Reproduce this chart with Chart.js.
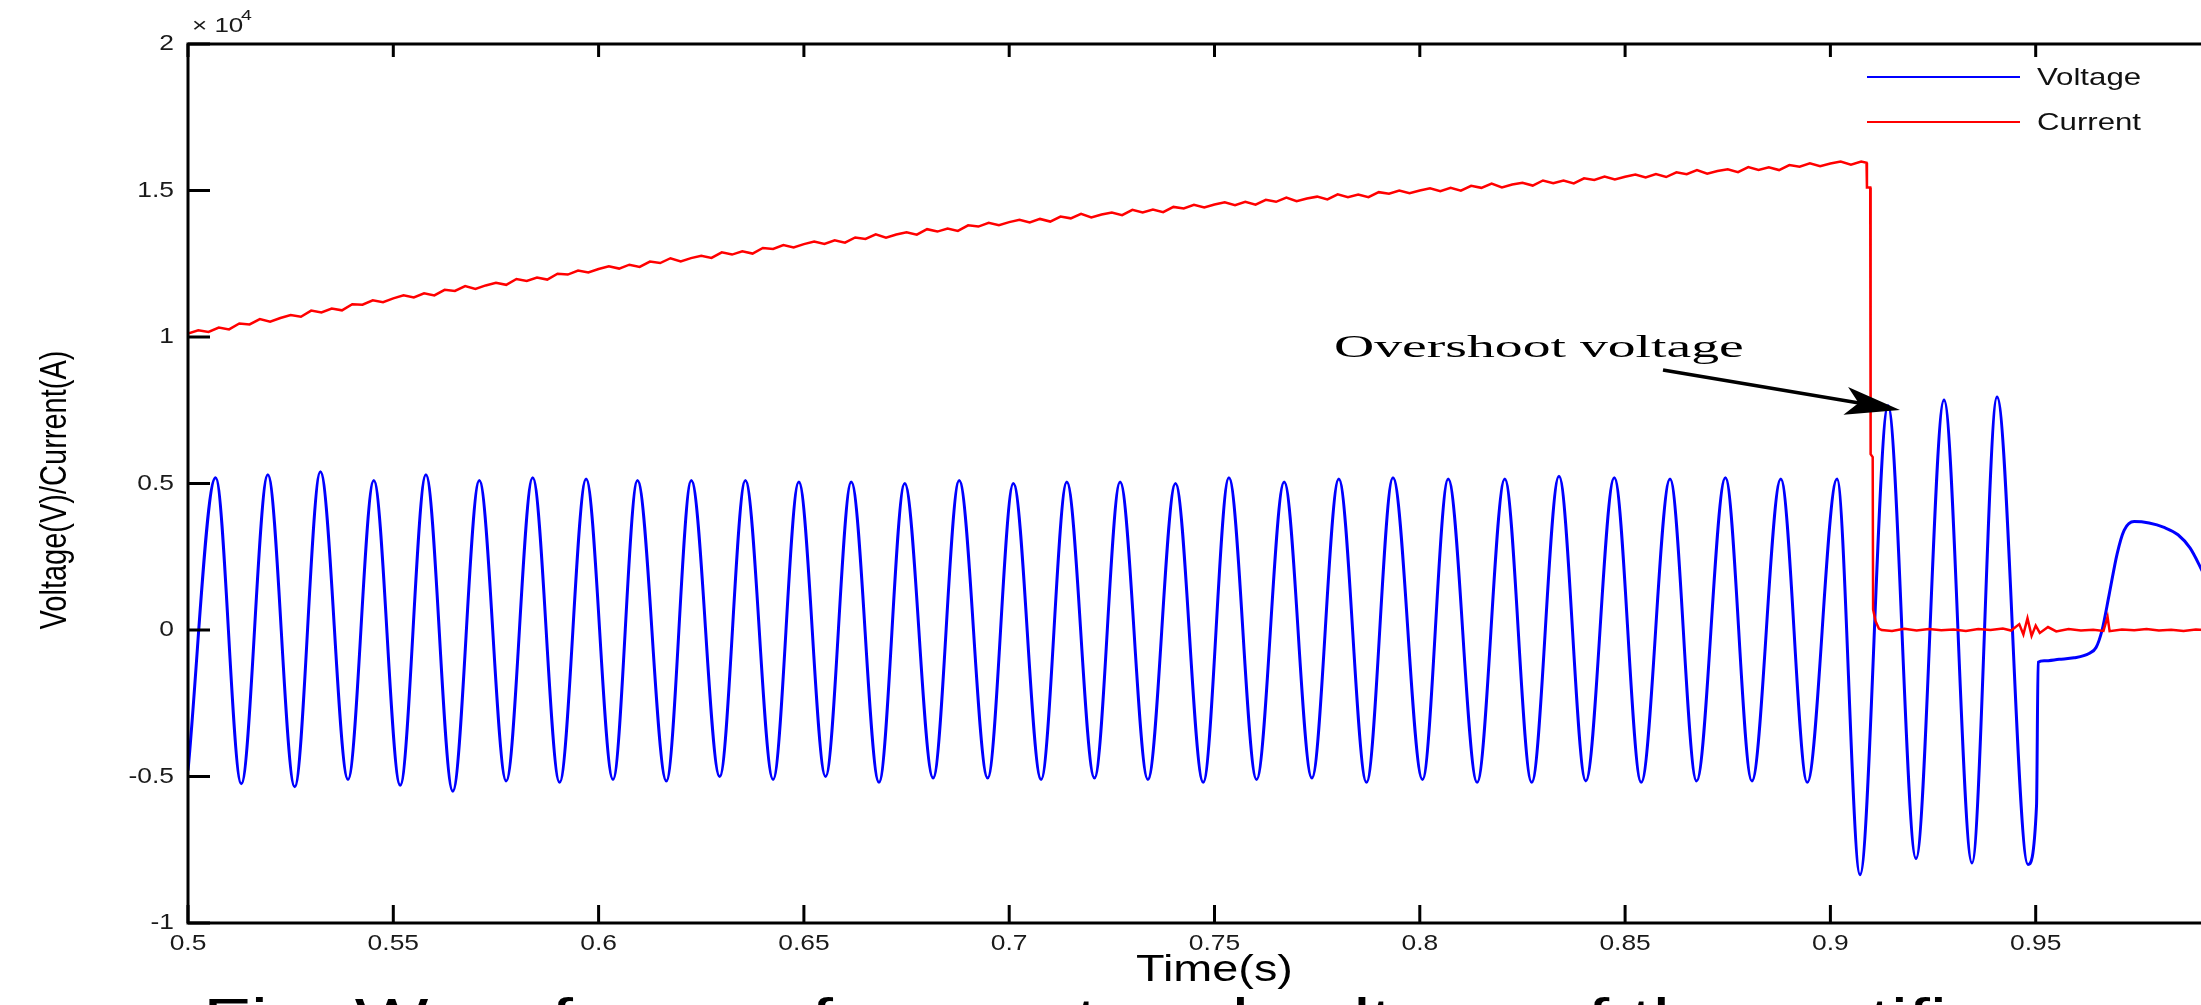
<!DOCTYPE html>
<html>
<head>
<meta charset="utf-8">
<script src="https://cdn.jsdelivr.net/npm/chart.js@4.4.1/dist/chart.umd.min.js"></script>
<style>
  html, body { margin:0; padding:0; background:#fff; overflow:hidden; width:2201px; height:1005px; }
  canvas { display:block; }
</style>
</head>
<body>
<canvas id="wave" width="2250" height="1005"></canvas>
<script>
// voltage: extrema (time in s, value in V)
const voltTime = [
  0.5000, 0.50672, 0.51298, 0.51944, 0.52599, 0.53225, 0.53897, 0.54525, 0.55168, 0.55794,
  0.56449, 0.57095, 0.57750, 0.58395, 0.59050, 0.59696, 0.60351, 0.60947, 0.61651, 0.62258,
  0.62949, 0.63575, 0.64250, 0.64876, 0.65528, 0.66154, 0.66829, 0.67455, 0.68147, 0.68782,
  0.69476, 0.70102, 0.70777, 0.71403, 0.72077, 0.72701, 0.73378, 0.74050, 0.74725, 0.75351,
  0.76025, 0.76697, 0.77372, 0.78027, 0.78702, 0.79347, 0.80066, 0.80692, 0.81396, 0.82070,
  0.82725, 0.83390, 0.84043, 0.84737, 0.85392, 0.86094, 0.86741, 0.87443, 0.88088, 0.88792,
  0.89437, 0.90161, 0.90721, 0.91403, 0.92085, 0.92767, 0.93449, 0.94058, 0.94812, 0.95020,
  0.95060, 0.95205, 0.95570, 0.95935, 0.96300, 0.96470, 0.96617, 0.96788, 0.96983, 0.97153,
  0.97397, 0.97762, 0.98127, 0.98466, 0.98758, 0.99026, 0.99300
];
const voltValue = [
  -4800, 5200, -5250, 5300, -5350, 5400, -5100, 5100, -5300, 5300,
  -5500, 5100, -5150, 5200, -5200, 5150, -5100, 5100, -5150, 5100,
  -5000, 5100, -5100, 5050, -5000, 5050, -5200, 5000, -5050, 5100,
  -5050, 5000, -5100, 5050, -5050, 5050, -5100, 5000, -5200, 5200,
  -5100, 5050, -5050, 5150, -5200, 5200, -5100, 5150, -5200, 5150,
  -5200, 5250, -5150, 5200, -5200, 5150, -5150, 5200, -5150, 5150,
  -5200, 5150, -8350, 7650, -7800, 7850, -7950, 7950, -8000, -6000,
  -1100, -1050, -1000, -950, -800, -600, 0, 1200, 2600, 3400,
  3700, 3650, 3500, 3250, 2800, 2100, 1300
];

// current (A), noisy ramp then the interruption
const currTime = [
  0.5000, 0.5025, 0.5050, 0.5075, 0.5100, 0.5125, 0.5150, 0.5175, 0.5200, 0.5225,
  0.5250, 0.5275, 0.5300, 0.5325, 0.5350, 0.5375, 0.5400, 0.5425, 0.5450, 0.5475,
  0.5500, 0.5525, 0.5550, 0.5575, 0.5600, 0.5625, 0.5650, 0.5675, 0.5700, 0.5725,
  0.5750, 0.5775, 0.5800, 0.5825, 0.5850, 0.5875, 0.5900, 0.5925, 0.5950, 0.5975,
  0.6000, 0.6025, 0.6050, 0.6075, 0.6100, 0.6125, 0.6150, 0.6175, 0.6200, 0.6225,
  0.6250, 0.6275, 0.6300, 0.6325, 0.6350, 0.6375, 0.6400, 0.6425, 0.6450, 0.6475,
  0.6500, 0.6525, 0.6550, 0.6575, 0.6600, 0.6625, 0.6650, 0.6675, 0.6700, 0.6725,
  0.6750, 0.6775, 0.6800, 0.6825, 0.6850, 0.6875, 0.6900, 0.6925, 0.6950, 0.6975,
  0.7000, 0.7025, 0.7050, 0.7075, 0.7100, 0.7125, 0.7150, 0.7175, 0.7200, 0.7225,
  0.7250, 0.7275, 0.7300, 0.7325, 0.7350, 0.7375, 0.7400, 0.7425, 0.7450, 0.7475,
  0.7500, 0.7525, 0.7550, 0.7575, 0.7600, 0.7625, 0.7650, 0.7675, 0.7700, 0.7725,
  0.7750, 0.7775, 0.7800, 0.7825, 0.7850, 0.7875, 0.7900, 0.7925, 0.7950, 0.7975,
  0.8000, 0.8025, 0.8050, 0.8075, 0.8100, 0.8125, 0.8150, 0.8175, 0.8200, 0.8225,
  0.8250, 0.8275, 0.8300, 0.8325, 0.8350, 0.8375, 0.8400, 0.8425, 0.8450, 0.8475,
  0.8500, 0.8525, 0.8550, 0.8575, 0.8600, 0.8625, 0.8650, 0.8675, 0.8700, 0.8725,
  0.8750, 0.8775, 0.8800, 0.8825, 0.8850, 0.8875, 0.8900, 0.8925, 0.8950, 0.8975,
  0.9000, 0.9025, 0.9050, 0.9075,
  0.9088, 0.9089, 0.9097, 0.9098, 0.9103, 0.9104, 0.9110, 0.9118, 0.9125,
  0.915, 0.918, 0.921, 0.924, 0.927, 0.930, 0.933, 0.936, 0.939, 0.942,
  0.944, 0.946, 0.947, 0.948, 0.949, 0.950, 0.951, 0.953, 0.955, 0.958,
  0.961, 0.964, 0.9665, 0.9675, 0.968, 0.971, 0.974, 0.977, 0.980, 0.983,
  0.986, 0.989, 0.992, 0.995, 1.000
];
const currValue = [
  10120, 10230, 10170, 10320, 10260, 10460, 10430, 10610, 10520, 10650,
  10750, 10690, 10900, 10840, 10970, 10910, 11120, 11100, 11250, 11190,
  11320, 11420, 11350, 11490, 11420, 11610, 11570, 11740, 11640, 11760,
  11850, 11780, 11980, 11910, 12030, 11960, 12160, 12130, 12270, 12200,
  12320, 12413, 12335, 12468, 12390, 12573, 12525, 12688, 12580, 12693,
  12775, 12698, 12890, 12813, 12925, 12848, 13040, 13003, 13135, 13058,
  13170, 13258, 13175, 13303, 13220, 13398, 13345, 13503, 13390, 13498,
  13575, 13493, 13680, 13598, 13705, 13623, 13810, 13768, 13895, 13813,
  13920, 14000, 13910, 14030, 13940, 14110, 14050, 14200, 14080, 14180,
  14250, 14160, 14340, 14250, 14350, 14260, 14440, 14390, 14510, 14420,
  14520, 14594, 14498, 14612, 14516, 14680, 14614, 14758, 14632, 14726,
  14790, 14694, 14868, 14772, 14866, 14770, 14944, 14888, 15002, 14906,
  15000, 15074, 14977, 15091, 14994, 15158, 15091, 15235, 15108, 15202,
  15265, 15169, 15342, 15246, 15339, 15243, 15416, 15360, 15473, 15377,
  15470, 15543, 15445, 15558, 15460, 15623, 15555, 15698, 15570, 15663,
  15725, 15628, 15800, 15703, 15795, 15698, 15870, 15813, 15925, 15828,
  15920, 15985, 15880, 15985,
  15950, 15100, 15100, 6000, 5900, 700, 300, 50, 0,
  -30, 40, -20, 30, -10, 20, -30, 30, 0, 50,
  -20, 200, -150, 400, -200, 150, -100, 100, -50, 30,
  -20, 10, -30, 450, -40, 20, -10, 30, -20, 10,
  -30, 20, -10, 0, 0
];

const xTicks = [0.5, 0.55, 0.6, 0.65, 0.7, 0.75, 0.8, 0.85, 0.9, 0.95, 1];
const yTicks = [-10000, -5000, 0, 5000, 10000, 15000, 20000];
const seriesNames = ['Voltage', 'Current'];
const seriesColors = ['#0000ff', '#ff0000'];

const SX = 1.3; // the figure is stretched sideways

function stretchText(ctx, s, x, y, font, align, sx, base) {
  ctx.save();
  ctx.font = font;
  ctx.textAlign = align;
  ctx.textBaseline = base || 'middle';
  ctx.translate(x, y);
  ctx.scale(sx, 1);
  ctx.fillText(s, 0, 0);
  ctx.restore();
}

const frame = {
  id: 'frame',
  afterDraw(chart) {
    const { ctx, chartArea: a, scales: { x, y } } = chart;
    ctx.save();
    ctx.strokeStyle = '#000';
    ctx.fillStyle = '#000';
    ctx.lineWidth = 3;
    ctx.strokeRect(a.left, a.top, a.right - a.left, a.bottom - a.top);

    // inward ticks
    ctx.beginPath();
    yTicks.forEach(v => {
      const py = y.getPixelForValue(v);
      ctx.moveTo(a.left, py); ctx.lineTo(a.left + 22, py);
      ctx.moveTo(a.right, py); ctx.lineTo(a.right - 22, py);
    });
    xTicks.forEach(v => {
      const px = x.getPixelForValue(v);
      ctx.moveTo(px, a.bottom); ctx.lineTo(px, a.bottom - 18);
      ctx.moveTo(px, a.top); ctx.lineTo(px, a.top + 13);
    });
    ctx.stroke();

    // tick labels
    ctx.fillStyle = '#1a1a1a';
    yTicks.forEach(v => {
      const py = y.getPixelForValue(v);
      stretchText(ctx, String(+(v / 1e4).toFixed(2)), a.left - 14, py, '22px "Liberation Sans", Arial', 'right', 1.2);
    });
    xTicks.forEach(v => {
      const px = x.getPixelForValue(v);
      stretchText(ctx, String(+v.toFixed(2)), px, a.bottom + 21, '22px "Liberation Sans", Arial', 'center', 1.2);
    });

    // exponent
    stretchText(ctx, '\u00d7 10', a.left + 4, a.top - 18, '20px "Liberation Sans", Arial', 'left', SX);
    stretchText(ctx, '4', a.left + 53, a.top - 28, '15px "Liberation Sans", Arial', 'left', SX);

    // axis titles
    ctx.fillStyle = '#000';
    stretchText(ctx, 'Time(s)', x.getPixelForValue(0.75), 971, '36px "Liberation Sans", Arial', 'center', SX);
    ctx.save();
    ctx.font = '29px "Liberation Sans", Arial';
    ctx.textAlign = 'center';
    ctx.textBaseline = 'middle';
    ctx.translate(56, 490);
    ctx.rotate(-Math.PI / 2);
    ctx.scale(1, SX);
    ctx.fillText('Voltage(V)/Current(A)', 0, 0);
    ctx.restore();

    // legend
    seriesNames.forEach((name, i) => {
      const ly = 77 + i * 45;
      ctx.strokeStyle = seriesColors[i];
      ctx.lineWidth = 2;
      ctx.beginPath(); ctx.moveTo(1867, ly); ctx.lineTo(2020, ly); ctx.stroke();
      ctx.fillStyle = '#111';
      stretchText(ctx, name, 2037, ly + 1, '24px "Liberation Sans", Arial', 'left', SX);
    });

    // annotation
    ctx.fillStyle = '#000';
    stretchText(ctx, 'Overshoot voltage', 1334, 349, '32px "Liberation Serif", "Times New Roman", serif', 'left', 1.74);
    const x0 = 1663, y0 = 370, x1 = 1900, y1 = 410;
    const ang = Math.atan2(y1 - y0, x1 - x0);
    ctx.strokeStyle = '#000';
    ctx.lineWidth = 3.5;
    ctx.beginPath(); ctx.moveTo(x0, y0); ctx.lineTo(x1 - 40 * Math.cos(ang), y1 - 40 * Math.sin(ang)); ctx.stroke();
    ctx.save();
    ctx.translate(x1, y1);
    ctx.rotate(ang);
    ctx.beginPath();
    ctx.moveTo(0, 0);
    ctx.lineTo(-55, -14);
    ctx.lineTo(-42, 0);
    ctx.lineTo(-55, 14);
    ctx.closePath();
    ctx.fill();
    ctx.restore();

    // caption, cut by the bottom edge
    stretchText(ctx, 'Fig. Waveforms of current and voltage of the rectifier', 203, 1040, '60px "Liberation Sans", Arial', 'left', SX, 'alphabetic');
    ctx.restore();
  }
};

new Chart(document.getElementById('wave'), {
  type: 'line',
  data: {
    datasets: [
      {
        label: seriesNames[0],
        data: voltTime.map((t, i) => ({ x: t, y: voltValue[i] })),
        borderColor: seriesColors[0],
        borderWidth: 3,
        pointRadius: 0,
        cubicInterpolationMode: 'monotone',
        order: 2
      },
      {
        label: seriesNames[1],
        data: currTime.map((t, i) => ({ x: t, y: currValue[i] })),
        borderColor: seriesColors[1],
        borderWidth: 2.5,
        pointRadius: 0,
        tension: 0,
        order: 1
      }
    ]
  },
  options: {
    responsive: false,
    animation: false,
    devicePixelRatio: 1,
    layout: { padding: { left: 0, right: 9, top: 44, bottom: 0 } },
    plugins: { legend: { display: false }, tooltip: { enabled: false } },
    scales: {
      x: {
        type: 'linear', min: 0.5, max: 1.0,
        grid: { display: false, drawTicks: false },
        border: { display: false },
        ticks: { display: false, stepSize: 0.05 },
        afterFit: s => { s.height = 82; }
      },
      y: {
        type: 'linear', min: -10000, max: 20000,
        grid: { display: false, drawTicks: false },
        border: { display: false },
        ticks: { display: false, stepSize: 5000 },
        afterFit: s => { s.width = 188; }
      }
    }
  },
  plugins: [frame]
});
</script>
</body>
</html>
